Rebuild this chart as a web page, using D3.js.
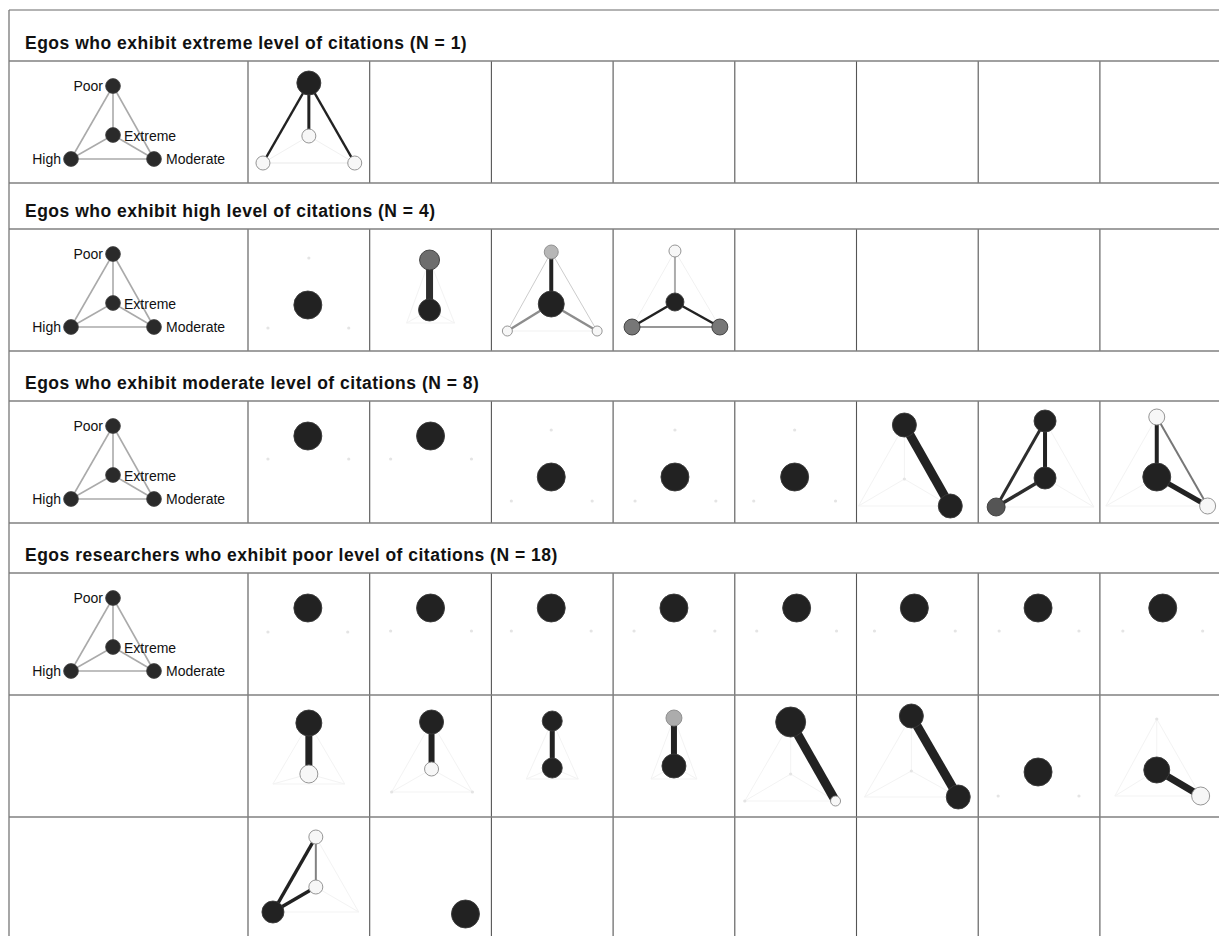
<!DOCTYPE html>
<html>
<head>
<meta charset="utf-8">
<script src="https://cdn.jsdelivr.net/npm/d3@7/dist/d3.min.js"></script>
<style>
  html, body { margin: 0; padding: 0; background: #fff; }
  svg { display: block; }
</style>
</head>
<body>
<svg id="chart" width="1219" height="936"></svg>
<script>
// ---------------- DATA ----------------
const categories = ["Poor", "Extreme", "High", "Moderate"];
const groupTitles = [
  "Egos who exhibit extreme level of citations (N = 1)",
  "Egos who exhibit high level of citations (N = 4)",
  "Egos who exhibit moderate level of citations (N = 8)",
  "Egos researchers who exhibit poor level of citations (N = 18)"
];
const groupSizes = [1, 4, 8, 18];

// legend layout (layout units inside a 239 x 122 legend cell) for Poor, Extreme, High, Moderate
const legendLayout = [[104, 25], [104, 74], [62, 98], [145, 98]];
const legendTies = [[0, 1], [0, 2], [0, 3], [1, 2], [1, 3], [2, 3]];

// per ego: layout of nodes Poor, Extreme, High, Moderate (layout units 0-122 in the cell), null = absent
const egoLayouts = [
  [[61,22],[61,75],[15,102],[107,102]],
  [[61,29],[60,76],[20,99],[101,99]],
  [[60,31],[60,81],[37,94],[85,94]],
  [[60,23],[60,75],[16,102],[106,102]],
  [[62,22],[62,73],[19,98],[107,98]],
  [[60,35],null,[20,58],[101,58]],
  [[61,35],null,[21,58],[102,58]],
  [[60,29],[60,76],[20,100],[101,100]],
  [[62,29],[62,76],[22,100],[103,100]],
  [[60,29],[60,76],[19,100],[101,100]],
  [[48,24],[48,78],[2,105],[94,105]],
  [[67,20],[67,77],[18,106],[116,106]],
  [[57,16],[57,76],[6,105],[108,105]],
  [[60,35],null,[20,59],[100,59]],
  [[61,35],null,[21,58],[102,58]],
  [[60,35],null,[20,58],[100,58]],
  [[61,35],null,[21,58],[102,58]],
  [[62,35],null,[22,58],[102,58]],
  [[58,35],null,[18,58],[99,58]],
  [[60,35],null,[21,58],[101,58]],
  [[63,35],null,[23,58],[103,58]],
  [[61,28],[61,79],[25,89],[97,89]],
  [[62,27],[62,74],[22,97],[103,97]],
  [[61,26],[61,73],[35,84],[87,84]],
  [[61,23],[61,71],[38,84],[84,84]],
  [[56,27],[56,79],[10,106],[101,106]],
  [[55,21],[55,76],[8,102],[102,102]],
  [[60,30],[60,77],[20,101],[101,101]],
  [[57,24],[57,75],[15,101],[101,101]],
  [[68,20],[68,70],[25,95],[111,95]],
  [null,null,null,[96,97]]
];

// node size per ego (0 = isolated tiny point, null = not drawn)
const egoNodeSizes = [
  [12,7,7,7],
  [0,14,0,0],
  [10,11,null,null],
  [7,13,5,5],
  [6,9,8,8],
  [14,null,0,0],
  [14,null,0,0],
  [0,14,0,0],
  [0,14,0,0],
  [0,14,0,0],
  [12,0,null,12],
  [11,11,9,null],
  [8,14,null,8],
  [14,null,0,0],
  [14,null,0,0],
  [14,null,0,0],
  [14,null,0,0],
  [14,null,0,0],
  [14,null,0,0],
  [14,null,0,0],
  [14,null,0,0],
  [13,9,null,null],
  [12,7,0,0],
  [10,10,null,null],
  [8,12,null,null],
  [15,0,0,5],
  [12,0,null,12],
  [null,14,0,0],
  [0,13,null,9],
  [7,7,11,null],
  [null,null,null,14]
];

// node shade per ego (0 = white, 1 = black)
const egoNodeShades = [
  [1,0,0,0],
  [0,1,0,0],
  [0.65,1,0,0],
  [0.3,1,0,0],
  [0,1,0.6,0.6],
  [1,0,0,0],
  [1,0,0,0],
  [0,1,0,0],
  [0,1,0,0],
  [0,1,0,0],
  [1,0,0,1],
  [1,1,0.76,0],
  [0,1,0,0],
  [1,0,0,0],
  [1,0,0,0],
  [1,0,0,0],
  [1,0,0,0],
  [1,0,0,0],
  [1,0,0,0],
  [1,0,0,0],
  [1,0,0,0],
  [1,0,0,0],
  [1,0,0,0],
  [1,1,0,0],
  [0.35,1,0,0],
  [1,0,0,0],
  [1,0,0,1],
  [0,1,0,0],
  [0,1,0,0],
  [0,0,1,0],
  [0,0,0,1]
];

// ties per ego: [from, to, strength, shade]
const egoTies = [
  [[1,2,1,.03],[1,3,1,.03],[2,3,1.5,.03],[0,2,2.5,1],[0,1,3,1],[0,3,2.5,1]],
  [],
  [[0,2,1,.02],[0,3,1,.02],[1,2,1,.02],[1,3,1,.02],[2,3,1,.02],[0,1,7,.95]],
  [[2,3,1,.03],[0,2,1,.2],[0,3,1,.2],[1,2,2.5,.5],[1,3,2.5,.5],[0,1,4,1]],
  [[0,2,1,.03],[0,3,1,.03],[0,1,2,.35],[2,3,2,.45],[1,2,2.5,1],[1,3,2.5,1]],
  [], [], [], [], [],
  [[0,2,1,.02],[0,1,1,.02],[1,2,1,.02],[1,3,1,.02],[2,3,1,.02],[0,3,9,1]],
  [[0,3,1,.02],[1,3,1,.02],[2,3,1,.02],[0,1,4,1],[0,2,3,.95],[1,2,3.5,.95]],
  [[0,2,1,.02],[1,2,1,.02],[2,3,1,.02],[0,3,2,.6],[0,1,4,1],[1,3,5,1]],
  [], [], [], [], [], [], [], [],
  [[0,2,1,.02],[0,3,1,.02],[1,2,1,.02],[1,3,1,.02],[2,3,1,.02],[0,1,7,1]],
  [[0,2,1,.02],[0,3,1,.02],[1,2,1,.02],[1,3,1,.02],[2,3,1,.02],[0,1,6,1]],
  [[0,2,1,.02],[0,3,1,.02],[1,2,1,.02],[1,3,1,.02],[2,3,1,.02],[0,1,5,1]],
  [[0,2,1,.02],[0,3,1,.02],[1,2,1,.02],[1,3,1,.02],[2,3,1,.02],[0,1,6,1]],
  [[0,2,1,.02],[0,1,1,.02],[1,2,1,.02],[1,3,1,.02],[2,3,1,.02],[0,3,9,1]],
  [[0,2,1,.02],[0,1,1,.02],[1,2,1,.02],[1,3,1,.02],[2,3,1,.02],[0,3,9,1]],
  [],
  [[0,1,1,.02],[0,2,1,.02],[0,3,1,.02],[1,2,1,.02],[2,3,1,.02],[1,3,7,1]],
  [[0,3,1,.02],[1,3,1,.02],[2,3,1,.02],[0,1,2,.55],[0,2,3.5,1],[1,2,3.5,1]],
  []
];

// ---------------- LAYOUT ----------------
const svg = d3.select("#chart");
const W = 1219, H = 936;
const tableLeft = 9, tableTop = 10;
const legendW = 239;
const COLS = 8;
const cellW = 121.7, cellH = 122;
const titleHeights = [51, 46, 50, 50];
const font = "'Liberation Sans', Arial, Helvetica, sans-serif";

const colX = d3.scaleLinear().domain([0, COLS]).range([tableLeft + legendW, tableLeft + legendW + COLS * cellW]);
const lx = d3.scaleLinear().domain([0, 122]).range([0, cellW]);
const ly = d3.scaleLinear().domain([0, 122]).range([0, cellH]);
const rScale = d3.scaleLinear().domain([0, 15]).range([0, 15]);
const wScale = d3.scaleLinear().domain([0, 10]).range([0, 10]);
const shade = d3.scaleLinear().domain([0, 1]).range(["#f7f7f7", "#222222"]);

svg.append("rect").attr("width", W).attr("height", H).attr("fill", "#fff");

const gridG = svg.append("g");
const contentG = svg.append("g");

let y = tableTop;
let egoIndex = 0;
const hLines = [tableTop];
const cellRows = [];

groupTitles.forEach((title, gi) => {
  const th = titleHeights[gi];
  contentG.append("text")
    .attr("x", tableLeft + 16)
    .attr("y", y + th - 12)
    .attr("font-family", font)
    .attr("font-weight", "bold")
    .attr("font-size", 17.5)
    .attr("letter-spacing", 0.5)
    .attr("fill", "#111")
    .text(title);
  y += th;
  hLines.push(y);
  const nRows = Math.ceil(groupSizes[gi] / COLS);
  for (let r = 0; r < nRows; r++) {
    cellRows.push([y, y + cellH]);
    if (r === 0) drawLegend(tableLeft, y);
    for (let c = 0; c < COLS; c++) {
      const k = r * COLS + c;
      if (k < groupSizes[gi]) {
        drawEgo(egoIndex, colX(c), y);
        egoIndex++;
      }
    }
    y += cellH;
    hLines.push(y);
  }
});

// grid lines
cellRows.forEach(([y0, y1]) => {
  d3.range(0, COLS + 1).forEach(c => {
    gridG.append("line")
      .attr("x1", colX(c)).attr("x2", colX(c))
      .attr("y1", y0).attr("y2", y1)
      .attr("stroke", "#555").attr("stroke-width", 1.1);
  });
});
hLines.forEach((hy, i) => {
  gridG.append("line")
    .attr("x1", tableLeft).attr("x2", W)
    .attr("y1", hy).attr("y2", hy)
    .attr("stroke", i === 0 ? "#9a9a9a" : "#808080")
    .attr("stroke-width", 1.6);
});
gridG.append("line")
  .attr("x1", tableLeft).attr("x2", tableLeft)
  .attr("y1", tableTop).attr("y2", H)
  .attr("stroke", "#777").attr("stroke-width", 1.3);

function drawLegend(x0, y0) {
  const g = contentG.append("g").attr("transform", `translate(${x0},${y0})`);
  g.selectAll("line").data(legendTies).join("line")
    .attr("x1", d => legendLayout[d[0]][0]).attr("y1", d => legendLayout[d[0]][1])
    .attr("x2", d => legendLayout[d[1]][0]).attr("y2", d => legendLayout[d[1]][1])
    .attr("stroke", "#aaa").attr("stroke-width", 1.6);
  g.selectAll("circle").data(legendLayout).join("circle")
    .attr("cx", d => d[0]).attr("cy", d => d[1]).attr("r", 7.4)
    .attr("fill", "#2a2a2a").attr("stroke", "#444").attr("stroke-width", 0.8);
  const anchors = ["end", "start", "end", "start"];
  const dxs = [-10, 11, -10, 12];
  const dys = [5, 6, 5, 5];
  g.selectAll("text").data(categories).join("text")
    .attr("x", (d, i) => legendLayout[i][0] + dxs[i])
    .attr("y", (d, i) => legendLayout[i][1] + dys[i])
    .attr("text-anchor", (d, i) => anchors[i])
    .attr("font-family", font).attr("font-size", 14).attr("fill", "#111")
    .text(d => d);
}

function drawEgo(e, x0, y0) {
  const g = contentG.append("g").attr("transform", `translate(${x0},${y0})`);
  const pos = egoLayouts[e];
  const ties = egoTies[e].filter(t => pos[t[0]] && pos[t[1]]);
  g.selectAll("line").data(ties).join("line")
    .attr("x1", d => lx(pos[d[0]][0])).attr("y1", d => ly(pos[d[0]][1]))
    .attr("x2", d => lx(pos[d[1]][0])).attr("y2", d => ly(pos[d[1]][1]))
    .attr("stroke", d => shade(d[3]))
    .attr("stroke-width", d => wScale(d[2]));
  const nodes = categories.map((c, i) => ({
    cat: c, p: pos[i], size: egoNodeSizes[e][i], shade: egoNodeShades[e][i]
  })).filter(n => n.p && n.size !== null && n.size !== undefined);
  g.selectAll("circle").data(nodes).join("circle")
    .attr("cx", d => lx(d.p[0])).attr("cy", d => ly(d.p[1]))
    .attr("r", d => d.size === 0 ? 1.6 : rScale(d.size))
    .attr("fill", d => d.size === 0 ? "#e4e4e4" : shade(d.shade))
    .attr("stroke", d => d.size === 0 ? "none" : (d.shade < 0.5 ? "#8a8a8a" : "#3a3a3a"))
    .attr("stroke-width", 0.9);
}
</script>
</body>
</html>
